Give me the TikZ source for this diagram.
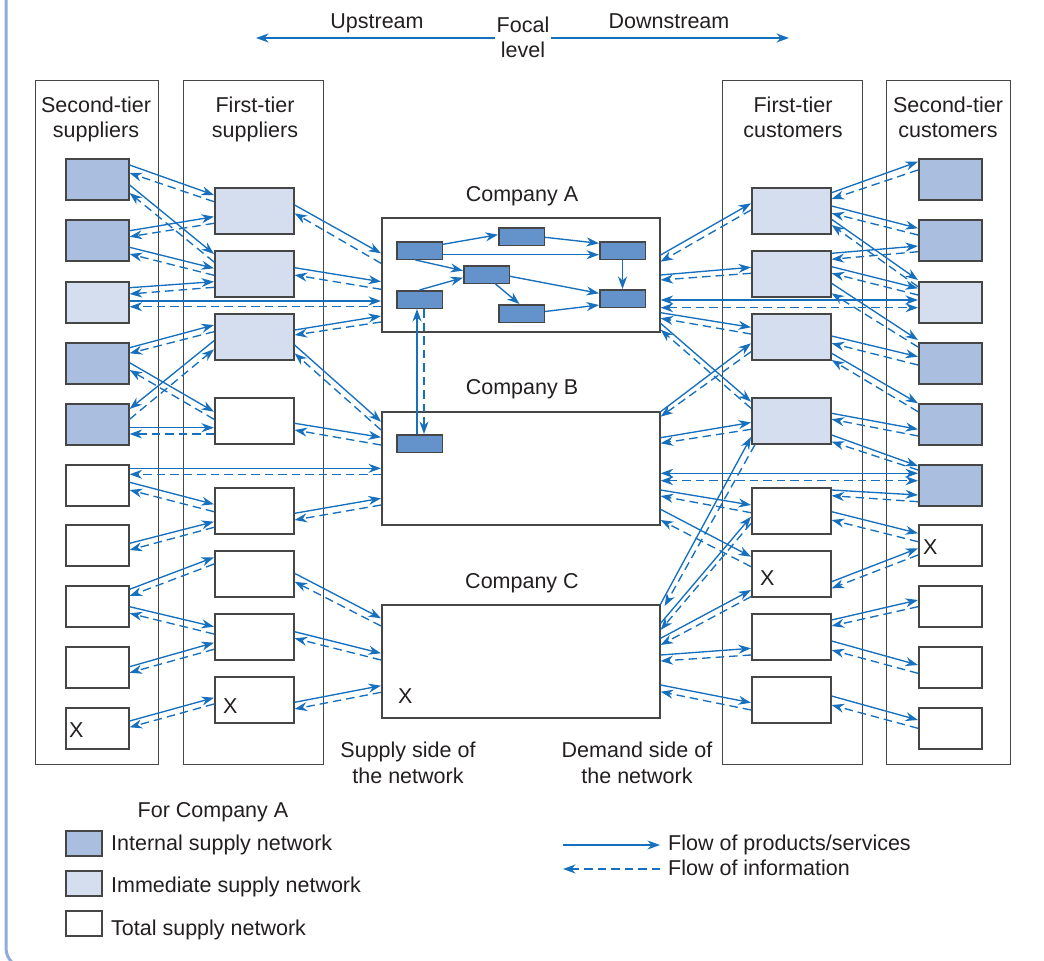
\documentclass[tikz,border=0pt]{standalone}
\usepackage{fontspec}
\setmainfont{Liberation Sans}
\usetikzlibrary{arrows.meta,calc}
\definecolor{flowblue}{RGB}{22,112,190}
\definecolor{internal}{RGB}{170,191,224}
\definecolor{immediate}{RGB}{213,222,239}
\definecolor{innerbox}{RGB}{100,146,202}
\definecolor{frameblue}{RGB}{143,172,220}
\definecolor{boxline}{RGB}{70,70,70}
\definecolor{txt}{RGB}{35,31,32}
\tikzset{
 tip/.tip={Stealth[length=12.5pt,width=9pt,inset=4pt]},
 prod/.style={draw=flowblue, line width=1.35pt, -tip},
 info/.style={prod, dash pattern=on 8.5pt off 5pt},
 dbl/.style={draw=flowblue, line width=1.35pt, tip-tip},
 colbox/.style={draw=boxline, line width=1.3pt, anchor=north west, inner sep=0, minimum width=#1, minimum height=684pt},
 sbox/.style={draw=boxline, line width=1.6pt, anchor=north west, inner sep=0, minimum width=63pt, minimum height=41pt},
 fbox/.style={sbox, minimum width=79pt, minimum height=46pt},
 cbox/.style={draw=boxline, line width=1.6pt, anchor=north west, inner sep=0, minimum width=278pt, minimum height=114pt, fill=white},
 ibox/.style={draw=boxline, line width=1.5pt, fill=innerbox, anchor=north west, inner sep=0, minimum width=45.5pt, minimum height=17.5pt},
 lgbox/.style={draw=boxline, line width=1.6pt, anchor=north west, inner sep=0, minimum width=36pt, minimum height=25pt},
 lbl/.style={text=txt, font=\fontsize{21.5}{26}\selectfont, inner sep=0, anchor=base},
 lblw/.style={lbl, anchor=base west},
}
\newcommand\lnk[6]{%
  \draw[prod] (#1.east |- 0,#3) -- (#2.west |- 0,#4);
  \draw[info] (#2.west |- 0,#6) -- (#1.east |- 0,#5);}
\begin{document}
\begin{tikzpicture}[x=1pt,y=-1pt]
\useasboundingbox (0,0) rectangle (1044,961);
% frame
\draw[frameblue, line width=3pt, rounded corners=20pt] (6,-5) -- (6,968) -- (1100,968);
% top
\node[lbl] (up) at (377,28) {Upstream};
\node[lbl] (down) at (669,28) {Downstream};
\node[lbl] (focal1) at (523,32) {Focal};
\node[lbl] (focal2) at (523,57) {level};
\coordinate (upend) at (256,38);
\coordinate (dnend) at (789,38);
\draw[prod] ([xshift=-2pt]focal1.west |- 0,38) -- (upend);
\draw[prod] ([xshift=2pt]focal1.east |- 0,38) -- (dnend);
% columns
\node[colbox=123pt] (colsa) at (35,80) {};
\node[colbox=140pt] (colsb) at (183,80) {};
\node[colbox=140pt] (colcb) at (722,80) {};
\node[colbox=124pt] (colca) at (886,80) {};
\node[lbl] (hsa1) at (96,112) {Second-tier};
\node[lbl] (hsa2) at (96,137) {suppliers};
\node[lbl] (hsb1) at (255,112) {First-tier};
\node[lbl] (hsb2) at (255,137) {suppliers};
\node[lbl] (hcb1) at (793,112) {First-tier};
\node[lbl] (hcb2) at (793,137) {customers};
\node[lbl] (hca1) at (948,112) {Second-tier};
\node[lbl] (hca2) at (948,137) {customers};
% boxes
\foreach \n/\y/\c in {1/158/internal,2/219/internal,3/281/immediate,4/342/internal,5/403/internal,6/464/white,7/524/white,8/585/white,9/646/white,10/707/white}
  \node[sbox, fill=\c] (sa\n) at (65,\y) {};
\foreach \n/\y/\c in {1/158/internal,2/219/internal,3/281/immediate,4/342/internal,5/403/internal,6/464/internal,7/524/white,8/585/white,9/646/white,10/707/white}
  \node[sbox, fill=\c] (ca\n) at (918,\y) {};
\foreach \n/\y/\c in {1/187/immediate,2/250/immediate,3/313/immediate,4/397/white,5/487/white,6/550/white,7/613/white,8/676/white}
  \node[fbox, fill=\c] (sb\n) at (214,\y) {};
\foreach \n/\y/\c in {1/187/immediate,2/250/immediate,3/313/immediate,4/397/immediate,5/487/white,6/550/white,7/613/white,8/676/white}
  \node[fbox, fill=\c] (cb\n) at (751,\y) {};
% companies
\node[cbox] (A) at (381,217) {};
\node[cbox, minimum height=113pt] (B) at (381,411) {};
\node[cbox, minimum height=113pt] (C) at (381,604) {};
\node[lbl] (lA) at (522,201) {Company A};
\node[lbl] (lB) at (522,394) {Company B};
\node[lbl] (lC) at (522,588) {Company C};
% X marks
\node[lblw] (xC) at (398,703) {X};
\node[lblw] (xsa) at (69,737) {X};
\node[lblw] (xsb) at (223,713) {X};
\node[lblw] (xcb) at (760,585) {X};
\node[lblw] (xca) at (923,554) {X};
% inner boxes
\node[ibox] (a1) at (396,241) {};
\node[ibox] (a2) at (498,227) {};
\node[ibox] (a3) at (599,241) {};
\node[ibox] (a4) at (463,265) {};
\node[ibox] (a5) at (396,290) {};
\node[ibox] (a6) at (498,304) {};
\node[ibox] (a7) at (599,289) {};
\node[ibox] (bi) at (396,434) {};
\draw[prod] (a1.east |- 0,244.3) -- (a2.west |- 0,234.7);
\draw[prod] (a1.east |- 0,254.7) -- (a3.west |- 0,254.7);
\draw[prod] (a2.east |- 0,237.3) -- (a3.west |- 0,243.3);
\draw[prod] ([xshift=-4pt]a1.south) -- (a4.west |- 0,270.7);
\draw[prod] (a5.north) -- (a4.west |- 0,277.7);
\draw[prod] (a4.east |- 0,276.3) -- (a7.west |- 0,293.3);
\draw[prod] ([xshift=9pt]a4.south) -- ([xshift=-2pt]a6.north);
\draw[prod] (a6.east |- 0,311.5) -- (a7.west |- 0,305);
\draw[prod] (a3.south) -- (a7.north);
\draw[prod] ([xshift=-2.5pt]bi.north) -- ([xshift=-2.5pt]a5.south);
\draw[info] ([xshift=4.5pt]a5.south) -- ([xshift=4.5pt]bi.north);
% supply side links
\lnk{sa1}{sb1}{165}{195}{173}{201.7}
\lnk{sa1}{sb2}{185}{254}{193}{262}
\lnk{sa2}{sb1}{230.7}{216.7}{236.7}{223.3}
\lnk{sa2}{sb2}{247.3}{268.3}{254}{275.3}
\lnk{sa3}{sb2}{287.7}{281.7}{294}{287.3}
\lnk{sa3}{A}{301}{301}{306.7}{306.7}
\lnk{sb1}{A}{205}{253.3}{213.3}{263.3}
\lnk{sb2}{A}{267.7}{281.7}{275}{289.3}
\lnk{sb3}{A}{330}{316}{335}{322}
\lnk{sa4}{sb3}{347.7}{325}{353.3}{331.7}
\lnk{sa4}{sb4}{362.7}{411.7}{370}{419.3}
\draw[prod] (sb3.west |- 0,340.7) -- (sa5.east |- 0,409);
\draw[info] (sa5.east |- 0,419.3) -- (sb3.west |- 0,349.3);
\lnk{sa5}{sb4}{427.7}{427.7}{434}{434}
\lnk{sb4}{B}{423.3}{437.3}{430}{445}
\lnk{sb3}{B}{345}{421.7}{353.3}{430}
\lnk{sa6}{B}{468.3}{468.3}{474.3}{474.3}
\lnk{sa6}{sb5}{482.3}{504.3}{490}{511.7}
\lnk{sb5}{B}{513.3}{498.3}{520}{505}
\lnk{sa7}{sb5}{543.3}{521.7}{550}{527.3}
\lnk{sa8}{sb6}{589.3}{557.3}{596}{564}
\lnk{sa8}{sb7}{606.7}{626.7}{613.3}{634}
\lnk{sb6}{C}{573.3}{618.3}{581.7}{626}
\lnk{sb7}{C}{631.7}{653.3}{638.3}{660}
\lnk{sa9}{sb7}{666.7}{642.7}{672.7}{649.3}
\lnk{sa10}{sb8}{721}{697.7}{727.3}{704}
\lnk{sb8}{C}{702.3}{685.7}{709}{692.3}
% demand side links
\lnk{A}{cb1}{255}{203.3}{261.7}{210}
\lnk{A}{cb2}{275}{267.3}{280}{273.3}
\draw[dbl] (A.east |- 0,300) -- (ca3.west |- 0,300);
\draw[dbl, dash pattern=on 8.5pt off 5pt] (A.east |- 0,307.7) -- (ca3.west |- 0,307.7);
\lnk{A}{cb3}{312.7}{327.3}{318.3}{334}
\lnk{A}{cb4}{323.3}{401.7}{329.7}{408.3}
\lnk{B}{cb3}{411.7}{343.3}{416.7}{351.7}
\lnk{B}{cb4}{437.7}{422.5}{443.3}{429.3}
\draw[dbl] (B.east |- 0,473.3) -- (ca6.west |- 0,473.3);
\draw[dbl, dash pattern=on 8.5pt off 5pt] (B.east |- 0,480.7) -- (ca6.west |- 0,480.7);
\lnk{B}{cb5}{490}{505}{496}{512.7}
\lnk{B}{cb6}{509.3}{556.7}{520}{566.7}
\draw[prod] (C.north east) -- (cb4.west |- 0,437);
\draw[info] ([xshift=4pt]cb4.south west) -- ([xshift=4pt,yshift=-2pt]C.north east);
\lnk{C}{cb5}{623.3}{516.7}{630}{523.3}
\lnk{C}{cb6}{638.3}{590}{645}{596.7}
\lnk{C}{cb7}{655}{648.3}{661}{655}
\lnk{C}{cb8}{685}{702.7}{691.7}{710}
\lnk{cb1}{ca1}{192.7}{161.7}{199}{170}
\lnk{cb1}{ca2}{206}{228.3}{213.3}{235}
\lnk{cb1}{ca3}{219.3}{280}{225}{286.7}
\lnk{cb2}{ca2}{253.3}{246}{259.3}{251.7}
\lnk{cb2}{ca3}{266.7}{288.3}{273.3}{295}
\lnk{cb2}{ca4}{283.3}{340}{293.3}{347}
\lnk{cb3}{ca4}{336}{356.7}{343.3}{365}
\lnk{cb3}{ca5}{353.3}{403.3}{360}{411.7}
\lnk{cb4}{ca5}{413.3}{429.3}{419.3}{436}
\lnk{cb4}{ca6}{435}{466}{441.7}{470}
\lnk{cb5}{ca6}{490}{495}{495.7}{501.7}
\lnk{cb5}{ca7}{511.7}{533.3}{520}{541.7}
\lnk{cb6}{ca7}{581.7}{548.3}{588.3}{555}
\lnk{cb7}{ca8}{620}{600}{626}{606.7}
\lnk{cb7}{ca9}{641}{665}{650}{673.3}
\lnk{cb8}{ca10}{696}{720}{705}{728.3}
% side labels
\node[lbl] (sup1) at (408,757) {Supply side of};
\node[lbl] (sup2) at (408,783) {the network};
\node[lbl] (dem1) at (637,757) {Demand side of};
\node[lbl] (dem2) at (637,783) {the network};
% legend
\node[lbl] (forA) at (213,817) {For Company A};
\node[lgbox, fill=internal] (lg1) at (65,830) {};
\node[lgbox, fill=immediate] (lg2) at (65,870) {};
\node[lgbox, fill=white] (lg3) at (65,910) {};
\node[lblw] (lt1) at (111,850) {Internal supply network};
\node[lblw] (lt2) at (111,892) {Immediate supply network};
\node[lblw] (lt3) at (111,935) {Total supply network};
\coordinate (lpa) at (563,845);
\coordinate (lpb) at (660,845);
\coordinate (lia) at (660,869);
\coordinate (lib) at (563,869);
\draw[prod] (lpa) -- (lpb);
\draw[info] (lia) -- (lib);
\node[lblw] (lf1) at (668,850) {Flow of products/services};
\node[lblw] (lf2) at (668,875) {Flow of information};
\end{tikzpicture}
\end{document}
